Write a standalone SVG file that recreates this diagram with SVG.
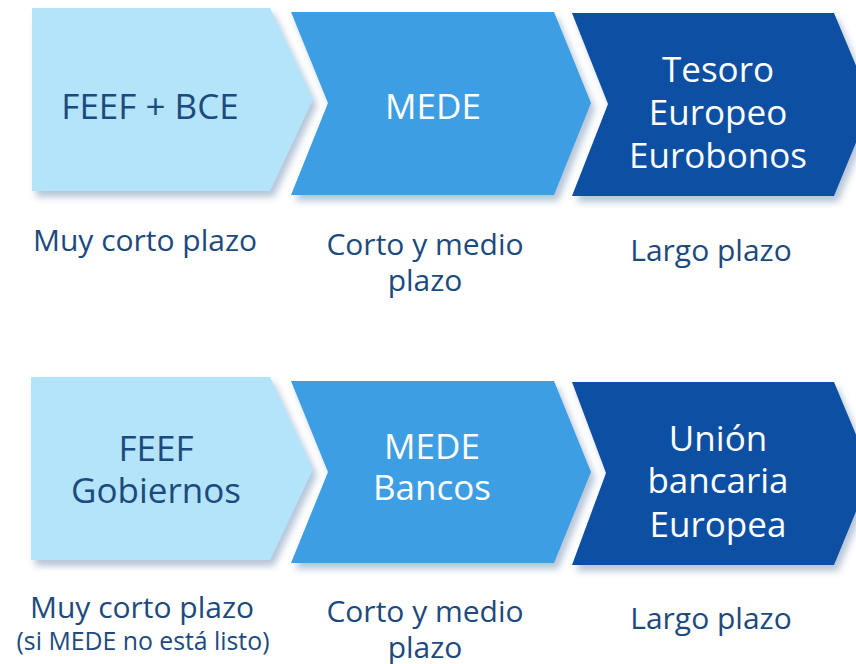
<svg xmlns="http://www.w3.org/2000/svg" width="856" height="664" viewBox="0 0 856 664">
<defs>
<filter id="sh" x="-10%" y="-10%" width="130%" height="130%">
<feDropShadow dx="4" dy="6" stdDeviation="3.5" flood-color="#5b7fa8" flood-opacity="0.45"/>
</filter>
<style>
.c1{fill:#b3e4f9;filter:url(#sh)}
.c2{fill:#3d9ee4;filter:url(#sh)}
.c3{fill:#0a4fa3;filter:url(#sh)}
text{font-family:"Open Sans","DejaVu Sans",sans-serif;text-anchor:middle}
.nd{font-size:35px;fill:#1d4a7e}
.nw{font-size:35px;fill:#ffffff}
.lb{font-size:30px;fill:#1d4a7e}
.sm{font-size:24.8px;fill:#1d4a7e}
</style>
</defs>
<rect width="856" height="664" fill="#ffffff"/>
<g id="connectors"/>
<g id="n1">
<polygon class="c1" points="32,8 270,8 313,99 270,191 32,191"/>
<text class="nd" x="150" y="119">FEEF + BCE</text>
</g>
<g id="n2">
<polygon class="c2" points="291,12 554,12 591,103 554,195 291,195 328,103"/>
<text class="nw" x="433" y="119">MEDE</text>
</g>
<g id="n3">
<polygon class="c3" points="572,13 834,13 872,104 834,196 572,196 608,104"/>
<text class="nw" x="718" y="82">Tesoro</text>
<text class="nw" x="718" y="125">Europeo</text>
<text class="nw" x="718" y="168">Eurobonos</text>
</g>
<g id="l1">
<text class="lb" x="145" y="251">Muy corto plazo</text>
</g>
<g id="l2">
<text class="lb" x="425" y="255">Corto y medio</text>
<text class="lb" x="425" y="291">plazo</text>
</g>
<g id="l3">
<text class="lb" x="711" y="261">Largo plazo</text>
</g>
<g id="n4">
<polygon class="c1" points="31,377 270,377 313,469 270,560 31,560"/>
<text class="nd" x="156" y="461">FEEF</text>
<text class="nd" x="156" y="503">Gobiernos</text>
</g>
<g id="n5">
<polygon class="c2" points="291,381 554,381 591,472 554,563 291,563 328,472"/>
<text class="nw" x="432" y="459">MEDE</text>
<text class="nw" x="432" y="500">Bancos</text>
</g>
<g id="n6">
<polygon class="c3" points="572,382 834,382 872,473 834,565 572,565 606,473"/>
<text class="nw" x="718" y="451">Unión</text>
<text class="nw" x="718" y="493">bancaria</text>
<text class="nw" x="718" y="537">Europea</text>
</g>
<g id="l4">
<text class="lb" x="142" y="618">Muy corto plazo</text>
<text class="sm" x="143" y="650">(si MEDE no está listo)</text>
</g>
<g id="l5">
<text class="lb" x="425" y="622">Corto y medio</text>
<text class="lb" x="425" y="658">plazo</text>
</g>
<g id="l6">
<text class="lb" x="711" y="629">Largo plazo</text>
</g>
</svg>
